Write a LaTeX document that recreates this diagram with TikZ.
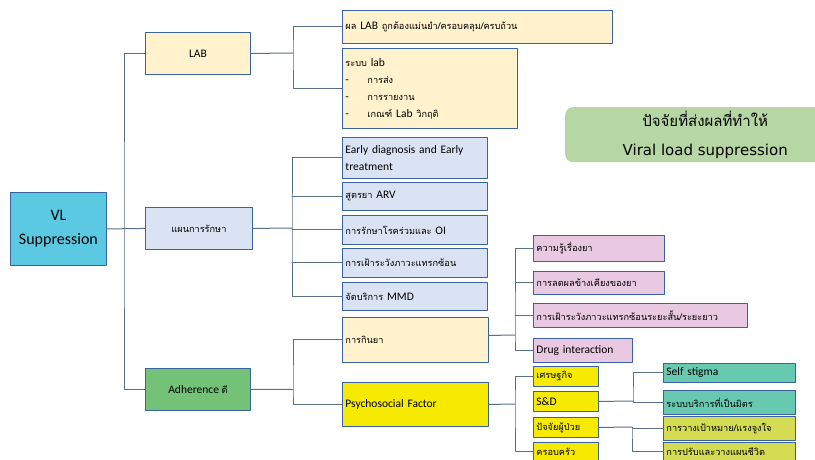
\documentclass[tikz,border=0pt]{standalone}
\usepackage{fontspec}
\setmainfont{Carlito}
\newfontfamily\thaifont[Script=Thai,Scale=0.8]{Loma}
\newfontfamily\headthai[Script=Thai]{Loma}
\newfontfamily\headfont{DejaVu Sans}
\definecolor{edge}{HTML}{3A62A0}
\definecolor{wire}{HTML}{5A6E8A}
\definecolor{cyanbox}{HTML}{5BC9E2}
\definecolor{cream}{HTML}{FFF2CC}
\definecolor{paleblue}{HTML}{DAE3F3}
\definecolor{leafgreen}{HTML}{74C178}
\definecolor{lemon}{HTML}{F5EA00}
\definecolor{pink}{HTML}{E8C9E1}
\definecolor{teal}{HTML}{68C9B1}
\definecolor{lime}{HTML}{D3DC52}
\definecolor{sage}{HTML}{B6D7A4}
\begin{document}
\begin{tikzpicture}[x=1pt,y=-1pt,line cap=round,line join=round,
  box/.style={draw=edge,line width=0.9pt,inner xsep=3pt,inner ysep=1pt,
    anchor=north west,font=\fontsize{11.5}{17}\selectfont},
  hub/.style={box,align=center},
  leaf/.style={box,align=left},
  link/.style={draw=wire,line width=1pt}]
  \useasboundingbox (0,0) rectangle (815,460);

  % root and first level
  \node[hub,fill=cyanbox,minimum width=96,minimum height=73,
    font=\fontsize{16}{24}\selectfont] (vl) at (10,192) {VL\\Suppression};
  \node[hub,fill=cream,minimum width=105,minimum height=42] (lab) at (145,32) {LAB};
  \node[hub,fill=paleblue,minimum width=107,minimum height=42] (plan) at (145,207) {\thaifont แผนการรักษา};
  \node[hub,fill=leafgreen,minimum width=105,minimum height=42] (adh) at (145,368) {Adherence {\thaifont ดี}};

  % lab branch
  \node[leaf,fill=cream,text width=264pt,minimum height=33] (lab1) at (342,10)
    {{\thaifont ผล} LAB {\thaifont ถูกต้องแม่นยำ/ครอบคลุม/ครบถ้วน}};
  \node[leaf,fill=cream,text width=169pt,minimum height=80] (lab2) at (342,48)
    {{\thaifont ระบบ} lab\\
     \makebox[22pt][l]{-}{\thaifont การส่ง}\\
     \makebox[22pt][l]{-}{\thaifont การรายงาน}\\
     \makebox[22pt][l]{-}{\thaifont เกณฑ์} Lab {\thaifont วิกฤติ}};

  % treatment branch
  \node[leaf,fill=paleblue,text width=139pt,minimum height=41] (t1) at (342,137) {Early diagnosis and Early\\treatment};
  \node[leaf,fill=paleblue,text width=139pt,minimum height=28] (t2) at (342,182) {{\thaifont สูตรยา} ARV};
  \node[leaf,fill=paleblue,text width=139pt,minimum height=29] (t3) at (342,215) {{\thaifont การรักษาโรคร่วมและ} OI};
  \node[leaf,fill=paleblue,text width=139pt,minimum height=29] (t4) at (342,248) {\thaifont การเฝ้าระวังภาวะแทรกซ้อน};
  \node[leaf,fill=paleblue,text width=139pt,minimum height=28] (t5) at (342,282) {{\thaifont จัดบริการ} MMD};

  % adherence branch
  \node[leaf,fill=cream,text width=140pt,minimum height=45] (eat) at (342,317) {\thaifont การกินยา};
  \node[leaf,fill=lemon,text width=140pt,minimum height=44] (psy) at (342,382) {Psychosocial Factor};

  \node[leaf,fill=pink,text width=125pt,minimum height=26] (k1) at (533,235) {\thaifont ความรู้เรื่องยา};
  \node[leaf,fill=pink,text width=125pt,minimum height=23] (k2) at (533,271) {\thaifont การลดผลข้างเคียงของยา};
  \node[leaf,fill=pink,text width=208pt,minimum height=24] (k3) at (533,303) {\thaifont การเฝ้าระวังภาวะแทรกซ้อนระยะสั้น/ระยะยาว};
  \node[leaf,fill=pink,text width=93pt,minimum height=24] (k4) at (533,338) {Drug interaction};

  \node[leaf,fill=lemon,text width=59pt,minimum height=20] (y1) at (533,366) {\thaifont เศรษฐกิจ};
  \node[leaf,fill=lemon,text width=59pt,minimum height=20] (y2) at (533,391) {S\&D};
  \node[leaf,fill=lemon,text width=59pt,minimum height=20] (y3) at (533,417) {\thaifont ปัจจัยผู้ป่วย};
  \node[leaf,fill=lemon,text width=59pt,minimum height=19] (y4) at (533,442) {\thaifont ครอบครัว};

  \node[leaf,fill=teal,text width=126pt,minimum height=19] (s1) at (663,363) {Self stigma};
  \node[leaf,fill=teal,text width=126pt,minimum height=24] (s2) at (663,390) {\thaifont ระบบบริการที่เป็นมิตร};
  \node[leaf,fill=lime,text width=126pt,minimum height=24] (g1) at (663,416) {\thaifont การวางเป้าหมาย/แรงจูงใจ};
  \node[leaf,fill=lime,text width=126pt,minimum height=19] (g2) at (663,442) {\thaifont การปรับและวางแผนชีวิต};

  % heading
  \node[fill=sage,rounded corners=8pt,anchor=north west,minimum width=280,minimum height=55,
    align=center,font=\fontsize{15}{29}\selectfont] (head) at (565,107)
    {{\headthai ปัจจัยที่ส่งผลที่ทำให้}\\{\headfont Viral load suppression}};

  % bus points
  \coordinate (trunk) at (124,228);
  \coordinate (busLab) at (293,53);
  \coordinate (busPlan) at (292,228);
  \coordinate (busAdh) at (293,389.5);
  \coordinate (busEat) at (515,335);
  \coordinate (busPsy) at (515,404);
  \coordinate (busSD) at (633,401);
  \coordinate (busPt) at (632,427);

  % connectors
  \draw[link] (vl.east) -- (plan.west);
  \draw[link] (lab.west) -| (trunk) |- (adh.west);

  \draw[link] (lab.east) -- (busLab);
  \draw[link] (lab1.west) -| (busLab) |- (lab2.west);

  \draw[link] (plan.east) -- (busPlan);
  \draw[link] (t1.west) -| (busPlan) |- (t5.west);
  \foreach \n in {t2,t3,t4}
    \draw[link] (busPlan |- \n.west) -- (\n.west);

  \draw[link] (adh.east) -- (busAdh);
  \draw[link] (eat.west) -| (busAdh) |- (psy.west);

  \draw[link] ([yshift=4.5pt]eat.east) -- (busEat);
  \draw[link] (k1.west) -| (busEat) |- (k4.west);
  \foreach \n in {k2,k3}
    \draw[link] (busEat |- \n.west) -- (\n.west);

  \draw[link] (psy.east) -- (busPsy);
  \draw[link] (y1.west) -| (busPsy) |- (y4.west);

  \draw[link] (y2.east) -- (busSD);
  \draw[link] (s1.west) -| (busSD) |- (s2.west);

  \draw[link] (y3.east) -- (busPt);
  \draw[link] (g1.west) -| (busPt) |- (g2.west);
\end{tikzpicture}
\end{document}
